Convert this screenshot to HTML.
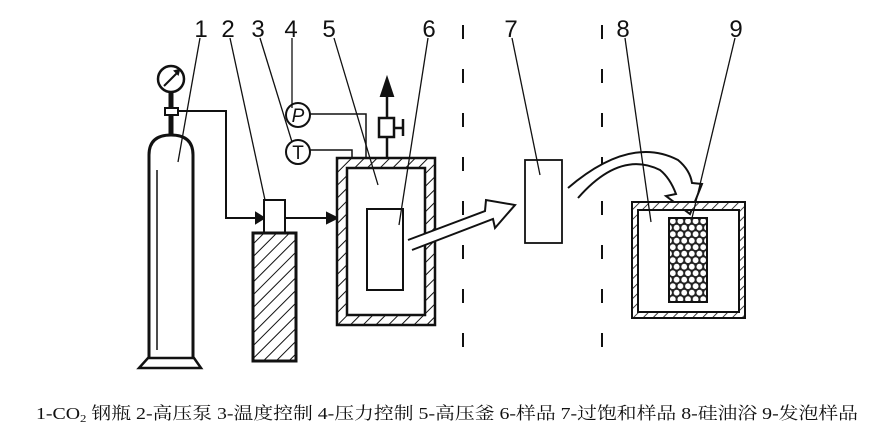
<!DOCTYPE html>
<html><head><meta charset="utf-8"><style>
html,body{margin:0;padding:0;background:#fff;}
svg{display:block;}
</style></head><body>
<svg width="876" height="439" viewBox="0 0 876 439" xmlns="http://www.w3.org/2000/svg">
<defs>
<pattern id="h" patternUnits="userSpaceOnUse" width="9" height="9" patternTransform="rotate(45)">
<rect width="9" height="9" fill="#fff"/><line x1="0" y1="0" x2="0" y2="9" stroke="#111" stroke-width="2"/>
</pattern>
<pattern id="h2" patternUnits="userSpaceOnUse" width="7" height="7" patternTransform="rotate(45)">
<rect width="7" height="7" fill="#fff"/><line x1="0" y1="0" x2="0" y2="7" stroke="#111" stroke-width="1.6"/>
</pattern>
<pattern id="hex" patternUnits="userSpaceOnUse" width="7.6" height="13" x="669" y="218">
<rect width="7.6" height="13" fill="#222"/>
<circle cx="3.8" cy="3.2" r="2.9" fill="#fff"/>
<circle cx="0" cy="9.7" r="2.9" fill="#fff"/>
<circle cx="7.6" cy="9.7" r="2.9" fill="#fff"/>
</pattern>
</defs>
<g fill="none" stroke="#111" stroke-width="2" font-family="Liberation Sans, sans-serif">
<path d="M149,358 L149,155 Q149,135 171,135 Q193,135 193,155 L193,358" stroke-width="3"/>
<line x1="157" y1="170" x2="157" y2="350" stroke-width="1.5"/>
<path d="M148,358 L194,358 L201,368 L139,368 Z" stroke-width="2.5"/>
<line x1="171" y1="93" x2="171" y2="135" stroke-width="5"/>
<rect x="165" y="108" width="13" height="7" fill="#fff" stroke-width="2"/>
<circle cx="171" cy="79" r="13" stroke-width="2.5"/>
<line x1="164" y1="86" x2="177" y2="73" stroke-width="2"/>
<path d="M179,70 L175,71 L178,74 Z" fill="#111"/>
<polyline points="178,111 226,111 226,218 256,218"/>
<path d="M256,213 L264,218 L256,223 Z" fill="#111"/>
<rect x="264" y="200" width="21" height="33" fill="#fff"/>
<rect x="253" y="233" width="43" height="128" fill="url(#h)" stroke-width="3"/>
<line x1="285" y1="218" x2="328" y2="218"/>
<path d="M327,213 L337,218 L327,223 Z" fill="#111"/>
<path d="M337,158 H435 V325 H337 Z M347,168 V315 H425 V168 Z" fill="url(#h)" fill-rule="evenodd" stroke-width="2.5"/>
<rect x="367" y="209" width="36" height="81" fill="#fff"/>
<circle cx="298" cy="115" r="12"/>
<text x="298" y="122" font-size="19" text-anchor="middle" fill="#111" stroke="none" font-style="italic">P</text>
<circle cx="298" cy="152" r="12"/>
<text x="298" y="159" font-size="19" text-anchor="middle" fill="#111" stroke="none">T</text>
<polyline points="310,114 366,114 366,158" stroke-width="1.5"/>
<polyline points="310,150 352,150 352,158" stroke-width="1.5"/>
<line x1="387" y1="94" x2="387" y2="158" stroke-width="2.5"/>
<path d="M381,96 L387,78 L393,96 Z" fill="#111"/>
<rect x="379" y="118" width="15" height="19" fill="#fff" stroke-width="2.5"/>
<line x1="394" y1="128" x2="403" y2="128" stroke-width="2.5"/>
<line x1="403" y1="119" x2="403" y2="136" stroke-width="2.5"/>
<path d="M408,240 L485,211 L486,200 L515,205 L495,228 L493,219 L412,250" fill="#fff" stroke-width="2"/>
<line x1="463" y1="25" x2="463" y2="370" stroke-dasharray="14 30" stroke-width="2"/>
<line x1="602" y1="25" x2="602" y2="370" stroke-dasharray="14 30" stroke-width="2"/>
<rect x="525" y="160" width="37" height="83" fill="#fff" stroke-width="1.8"/>
<path d="M568,188 Q630,135 678,160 Q690,170 692,183 L702,184 L690,214 L666,196 L676,194 Q670,178 660,170 Q620,150 578,198" fill="#fff" stroke-width="2"/>
<path d="M632,202 H745 V318 H632 Z M638,210 V312 H739 V210 Z" fill="url(#h2)" fill-rule="evenodd" stroke-width="2"/>
<line x1="638" y1="210" x2="739" y2="210" stroke-width="1.5"/>
<rect x="669" y="218" width="38" height="84" fill="url(#hex)" stroke-width="2"/>
<g stroke-width="1.3">
<line x1="200" y1="38" x2="178" y2="162"/>
<line x1="230" y1="38" x2="265" y2="200"/>
<line x1="260" y1="38" x2="292" y2="142"/>
<line x1="292" y1="38" x2="292" y2="108"/>
<line x1="334" y1="38" x2="378" y2="185"/>
<line x1="428" y1="38" x2="399" y2="225"/>
<line x1="512" y1="38" x2="540" y2="175"/>
<line x1="625" y1="38" x2="651" y2="222"/>
<line x1="735" y1="38" x2="692" y2="218"/>
</g>
<g fill="#111" stroke="none" font-size="24">
<text x="201" y="37" text-anchor="middle">1</text>
<text x="228" y="37" text-anchor="middle">2</text>
<text x="258" y="37" text-anchor="middle">3</text>
<text x="291" y="37" text-anchor="middle">4</text>
<text x="329" y="37" text-anchor="middle">5</text>
<text x="429" y="37" text-anchor="middle">6</text>
<text x="511" y="37" text-anchor="middle">7</text>
<text x="623" y="37" text-anchor="middle">8</text>
<text x="736" y="37" text-anchor="middle">9</text>
</g>
<text x="36" y="419" font-size="17" fill="#111" stroke="none" textLength="822" lengthAdjust="spacingAndGlyphs" font-family="Liberation Serif, Noto Serif CJK SC, serif">1-CO<tspan font-size="11" dy="3">2</tspan><tspan dy="-3"> 钢瓶  2-高压泵 3-温度控制 4-压力控制 5-高压釜 6-样品  7-过饱和样品 8-硅油浴 9-发泡样品</tspan></text>
</g>
</svg>
</body></html>
